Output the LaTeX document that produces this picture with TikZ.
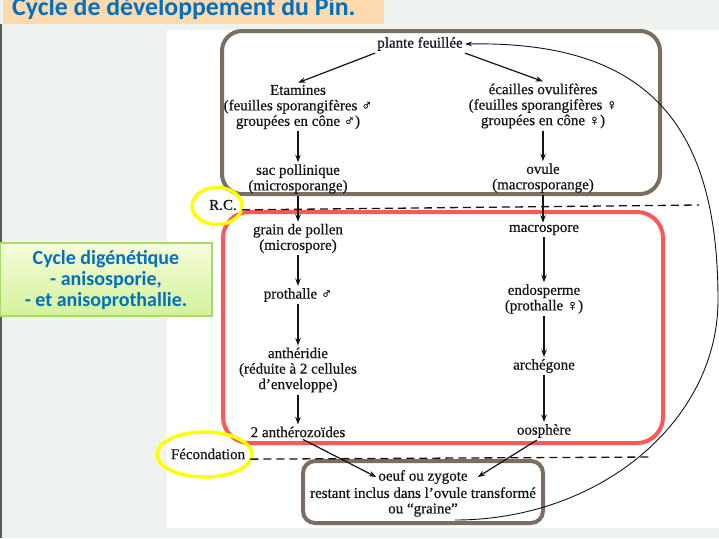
\documentclass[tikz,border=0pt]{standalone}
\usepackage{fontspec}
\setmainfont{Liberation Serif}[FakeBold=0.6]
\newfontfamily\calfont{Carlito}
\usetikzlibrary{arrows.meta}

\definecolor{pagebg}{HTML}{EEF3EF}
\definecolor{titleband}{HTML}{FDD9AE}
\definecolor{titleblue}{HTML}{0070C0}
\definecolor{framegrey}{HTML}{7A6E60}
\definecolor{framered}{HTML}{FF5656}
\definecolor{ringyellow}{HTML}{FFFF00}
\definecolor{notegreen}{HTML}{A8D86E}
\definecolor{notetop}{HTML}{F6FCDA}
\definecolor{notebottom}{HTML}{D3F29A}
\definecolor{ink}{HTML}{141414}

\tikzset{
  txt/.style={text=ink, align=center, inner sep=2pt,
    font=\fontsize{15}{15.5}\selectfont},
  arr/.style={draw=ink, line width=1.2pt, -{Stealth[length=7.5pt,width=5.5pt]}},
  looparr/.style={draw=ink, line width=0.9pt, -{Stealth[length=7pt,width=4.5pt]}},
  cutline/.style={draw=ink, line width=1.3pt, dash pattern=on 8pt off 5pt},
  greyframe/.style={draw=framegrey, line width=4pt, rounded corners=20pt},
  redframe/.style={draw=framered, line width=4pt, rounded corners=26pt},
  ring/.style={draw=ringyellow, line width=3.5pt},
  bluetext/.style={text=titleblue, align=center,
    font=\calfont\bfseries\fontsize{20}{21}\selectfont},
}

\begin{document}
\begin{tikzpicture}[x=1pt,y=-1pt]
\useasboundingbox (0,0) rectangle (719,538);

% slide background, title band and scanned sheet
\fill[pagebg] (0,0) rectangle (719,538);
\draw[line width=1.5pt, draw=black!65] (0.75,24) -- (0.75,538);
\fill[titleband] (3,0) rectangle (384,24);
\node[anchor=base west, text=titleblue, inner sep=0pt,
  font=\calfont\bfseries\fontsize{25.8}{30}\selectfont] (title) at (12,16)
  {Cycle de développement du Pin.};
\fill[white] (167,30) rectangle (719,528);

% side note
\shade[top color=notetop, bottom color=notebottom] (0,243) rectangle (212,316);
\draw[notegreen, line width=1.5pt] (0,243) rectangle (212,316);
\node[bluetext] (note) at (106,280)
  {Cycle digénétique\\- anisosporie,\\- et anisoprothallie.};

% group frames
\draw[greyframe] (222,31) rectangle (660,194);
\draw[redframe] (223,212) rectangle (663,443);
\draw[greyframe, rounded corners=12pt] (303,461) rectangle (543,523);

% sporophyte
\node[txt] (plante) at (420,44) {plante feuillée};
\node[txt] (etam) at (298,107)
  {Etamines\\(feuilles sporangifères ♂\\groupées en cône ♂)};
\node[txt] (ecail) at (543,106)
  {écailles ovulifères\\(feuilles sporangifères ♀\\groupées en cône ♀)};
\node[txt] (sac) at (298,179) {sac pollinique\\(microsporange)};
\node[txt] (ovule) at (543,178) {ovule\\(macrosporange)};

% male line
\node[txt] (grain) at (298,238.5) {grain de pollen\\(microspore)};
\node[txt] (proth) at (298,295) {prothalle ♂};
\node[txt] (anth) at (298,370)
  {anthéridie\\(réduite à 2 cellules\\d’enveloppe)};
\node[txt] (antz) at (298,432) {2 anthérozoïdes};

% female line
\node[txt] (macro) at (544,230) {macrospore};
\node[txt] (endo) at (544,299) {endosperme\\(prothalle ♀)};
\node[txt] (arch) at (544,366) {archégone};
\node[txt] (oosph) at (544,431) {oosphère};

% zygote
\node[txt] (zyg) at (423,477) {oeuf ou zygote};
\node[txt] (graine) at (423,502)
  {restant inclus dans l’ovule transformé\\ou “graine”};

% stage marks
\draw[ring] (217,206) ellipse [x radius=25pt, y radius=18.5pt];
\node[txt] (rc) at (223,205) {R.C.};
\draw[ring] (204.5,454.5) ellipse [x radius=47.5pt, y radius=22.5pt];
\node[txt] (fec) at (208,454) {Fécondation};

\coordinate (rcend) at (699,205);
\coordinate (fecend) at (652,457);
\draw[cutline] ([xshift=3pt]rc.base east) -- (rcend);
\draw[cutline] ([xshift=3pt]fec.base east) -- (fecend);

% arrows
\draw[arr] (plante.south west) -- (etam.north);
\draw[arr] (plante.south east) -- (ecail.north);
\draw[arr] (etam) -- (sac);
\draw[arr] (ecail) -- (ovule);
\draw[arr] (sac) -- (grain);
\draw[arr] (ovule) -- (ovule |- macro.north);
\draw[arr] (grain) -- (proth);
\draw[arr] (proth) -- (anth);
\draw[arr] (anth) -- (antz);
\draw[arr] (macro) -- (endo);
\draw[arr] (endo) -- (arch);
\draw[arr] (arch) -- (oosph);
\draw[arr] ([xshift=5pt]antz.south) -- (zyg.west);
\draw[arr] ([xshift=-7pt]oosph.south) -- ([xshift=8pt]zyg.east);

% return of the cycle: seed to leafy plant
\coordinate (arcfrom) at (455,520);
\draw[looparr] (arcfrom) .. controls (600,520) and (718,421) .. (718,300)
  .. controls (718,119) and (643,41) .. (plante.east);
\end{tikzpicture}
\end{document}
